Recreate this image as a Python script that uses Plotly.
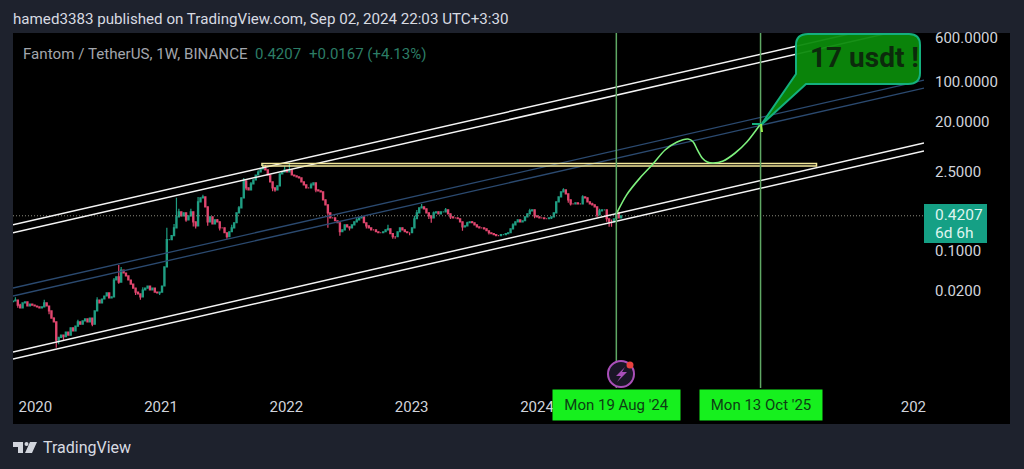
import pandas as pd
import plotly.graph_objects as go

# weekly closes, first candle is 2019-10-28
closes = [
    .0129, .0134, .0109, .0097, .0119, .0124, .0105, .0114, .0109, .0105,
    .0101, .0097, .0101, .0119, .0105, .0086, .0064, .0055, .0026, .0029,
    .0032, .0030, .0036, .0032, .0043, .0038, .0046, .0055, .0050, .0057,
    .0062, .0055, .0064, .0050, .0086, .0134, .0119, .0140, .0158, .0179,
    .0146, .0152, .0304, .0345, .0280, .0458, .0405, .0359, .0304, .0258,
    .0219, .0186, .0172, .0152, .0202, .0219, .0238, .0202, .0219, .0186,
    .0179, .0186, .0238, .052, .158, .158, .186, .257, .403, .494,
    .42, .474, .357, .42, .494, .329, .279, .743, .875, .91,
    .606, .329, .403, .303, .357, .329, .257, .257, .21, .179,
    .219, .257, .316, .474, .582, .875, 1.75, 1.32, 1.21, 1.55,
    1.82, 2.23, 2.52, 2.85, 2.97, 2.74, 2.23, 1.68, 1.32, 1.21,
    1.43, 2.33, 2.52, 2.74, 2.52, 2.74, 2.23, 2.15, 2.06, 1.98,
    1.68, 1.49, 1.32, 1.32, 1.49, 1.61, 1.21, 1.16, 1.12, .806,
    .657, .474, .387, .387, .343, .316, .219, .237, .291, .268,
    .257, .291, .329, .357, .387, .403, .316, .279, .257, .237,
    .237, .219, .21, .21, .219, .237, .247, .202, .179, .179,
    .219, .257, .237, .219, .21, .21, .257, .372, .474, .582,
    .606, .558, .474, .42, .387, .474, .494, .455, .494, .494,
    .536, .455, .403, .387, .387, .372, .329, .268, .279, .316,
    .329, .316, .291, .268, .257, .257, .247, .228, .21, .202,
    .194, .186, .186, .194, .194, .202, .21, .247, .291, .329,
    .357, .329, .343, .403, .455, .515, .536, .42, .403, .387,
    .387, .372, .372, .387, .403, .474, .743, .91, 1.12, 1.21,
    1.03, .806, .685, .685, .713, .685, .685, .91, .875, .743,
    .685, .657, .606, .437, .515, .536, .536, .372, .329, .329,
    .372, .474, .387, .4207,
]
# the longer wicks: week index -> price
wick_highs = {
    1: .0150, 3: .0115, 13: .0135, 16: .0088, 17: .0066, 27: .0060, 35: .0150, 42: .033,
    44: .056, 45: .052, 54: .0225, 64: .257, 67: .30, 68: .875, 69: .56, 74: .56,
    77: .91, 79: .99, 80: .80, 85: .37, 91: .29, 94: .63, 96: 1.98, 99: 1.68,
    102: 2.7, 104: 3.46, 105: 3.36, 106: 2.75, 113: 3.2, 115: 3.5, 116: 2.8, 124: 1.62,
    129: 1.1, 131: .66, 143: .39, 156: .29, 167: .42, 168: .53, 170: .68, 175: .50,
    180: .58, 189: .33, 191: .34, 208: .31, 215: .56, 217: .54, 229: 1.3, 230: 1.25,
    237: .97, 241: .72, 244: .56, 249: .36, 251: .50, 252: .494,
}
wick_lows = {
    2: .0098, 15: .0075, 18: .0019, 19: .0022, 21: .0026, 33: .0046, 44: .026, 51: .0165,
    53: .0135, 61: .0165, 72: .33, 75: .27, 76: .25, 81: .279, 86: .23, 89: .165,
    97: 1.2, 108: 1.15, 109: 1.12, 126: 1.1, 131: .257, 136: .186, 140: .23, 147: .25,
    158: .165, 159: .165, 165: .19, 173: .37, 174: .316, 182: .37, 187: .228, 198: .195,
    203: .185, 217: .38, 224: .37, 231: .72, 232: .64, 243: .39, 247: .33, 248: .268,
    249: .268, 250: .33,
}

# drawn lines, two ends each
chart_start, chart_end = '2019-10-28', '2027-02-01'
channel_white = [(.291, 1429), (.21, 1029), (.0016, 8.25), (.0012, 5.95)]
channel_blue = [(.0219, 108), (.0158, 78)]
zone_dates = ['2021-10-22', '2026-03-25']
zone_prices = [3.22, 3.57]
marker_dates = ['2024-08-19', '2025-10-13']
marker_labels = ["Mon 19 Aug '24", "Mon 13 Oct '25"]
last_price = 0.4207

projection_dates = [
    '2024-08-19', '2024-09-18', '2024-10-27', '2024-12-01', '2025-01-08', '2025-02-12',
    '2025-03-16', '2025-03-31', '2025-04-12', '2025-04-26', '2025-05-11', '2025-05-28',
    '2025-06-26', '2025-07-31', '2025-09-03', '2025-10-13',
]
projection_prices = [.455, .99, 1.98, 3.36, 6.2, 8.6, 9.7, 8.6, 6.2, 4.47, 3.79, 3.64, 3.95, 5.48, 8.6, 18]

price_ticks = [600, 100, 20, 2.5, 0.1, 0.02]
# 2025 and 2026 sit behind the two green date boxes in the picture
year_ticks = ['2020-01-01', '2021-01-01', '2022-01-01', '2023-01-01', '2024-01-01', '2027-01-01']
year_labels = ['2020', '2021', '2022', '2023', '2024', '202']

# plot box on the page, in pixels
L, R, T, B = 13, 924, 33, 388


def px(x):
    return (x - L) / (R - L)


def py(y):
    return (B - y) / (B - T)


dates = pd.date_range('2019-10-28', periods=len(closes), freq='7D')
opens = [.0125] + closes[:-1]
highs = [max(o, c) for o, c in zip(opens, closes)]
lows = [min(o, c) for o, c in zip(opens, closes)]
for week, price in wick_highs.items():
    highs[week] = max(highs[week], price)
for week, price in wick_lows.items():
    lows[week] = min(lows[week], price)

fig = go.Figure()

fig.add_trace(go.Candlestick(
    x=dates, open=opens, high=highs, low=lows, close=closes,
    increasing=dict(line=dict(color='#1f9d82', width=1.2), fillcolor='#1f9d82'),
    decreasing=dict(line=dict(color='#e0466e', width=1.2), fillcolor='#e0466e'),
    whiskerwidth=0,
))

fig.add_trace(go.Scatter(
    x=[chart_start, chart_end], y=[last_price, last_price], mode='lines',
    line=dict(color='#8a8a7e', width=1, dash='1px 2px'),
))

for start, end in channel_blue:
    fig.add_trace(go.Scatter(
        x=[chart_start, chart_end], y=[start, end], mode='lines',
        line=dict(color='#2b4a70', width=1.3),
    ))
for start, end in channel_white:
    fig.add_trace(go.Scatter(
        x=[chart_start, chart_end], y=[start, end], mode='lines',
        line=dict(color='#f4f4f4', width=1.5),
    ))

fig.add_trace(go.Scatter(
    x=[zone_dates[0], zone_dates[1], zone_dates[1], zone_dates[0], zone_dates[0]],
    y=[zone_prices[0], zone_prices[0], zone_prices[1], zone_prices[1], zone_prices[0]],
    mode='lines', line=dict(color='#f3e89a', width=1.5),
))

fig.add_trace(go.Scatter(
    x=projection_dates, y=projection_prices, mode='lines',
    line=dict(color='#7df07d', width=1.6, shape='spline', smoothing=0.8),
))

shapes = [
    # black panel behind the plot and both scales
    dict(type='rect', xref='paper', yref='paper', layer='below',
         x0=px(13), x1=px(1010), y0=py(424), y1=py(33), fillcolor='#000000', line_width=0),
]
for d in marker_dates:
    shapes.append(dict(type='line', xref='x', yref='paper', x0=d, x1=d, y0=0, y1=1,
                       line=dict(color='#5fa864', width=1.5)))

# callout bubble, pixel outline on the page
bubble_path = (
    f'M {px(808)} {py(34)} L {px(909)} {py(34)} Q {px(920)} {py(34)} {px(920)} {py(45)} '
    f'L {px(920)} {py(73)} Q {px(920)} {py(84)} {px(908)} {py(84)} L {px(806)} {py(84)} '
    f'L {px(761)} {py(125)} L {px(796)} {py(74)} L {px(796)} {py(45)} '
    f'Q {px(796)} {py(34)} {px(808)} {py(34)} Z'
)
shapes.append(dict(type='path', xref='paper', yref='paper', path=bubble_path,
                   fillcolor='rgba(11,138,11,0.95)', line=dict(color='#14b07e', width=2)))
shapes.append(dict(type='line', xref='paper', yref='paper', x0=px(752), x1=px(761), y0=py(124), y1=py(124),
                   line=dict(color='#14b07e', width=2)))
shapes.append(dict(type='line', xref='paper', yref='paper', x0=px(761), x1=px(762), y0=py(124), y1=py(132),
                   line=dict(color='#9af04a', width=2)))

# alert icon
shapes.append(dict(type='circle', xref='paper', yref='paper', x0=px(608), x1=px(634), y0=py(387), y1=py(361),
                   fillcolor='#1a1626', line=dict(color='#a94fb8', width=2)))
bolt = (
    f'M {px(625)} {py(367)} L {px(616)} {py(376)} L {px(621)} {py(376)} L {px(617)} {py(382)} '
    f'L {px(627)} {py(372)} L {px(622)} {py(372)} Z'
)
shapes.append(dict(type='path', xref='paper', yref='paper', path=bolt, fillcolor='#a94fb8', line_width=0))
shapes.append(dict(type='circle', xref='paper', yref='paper', x0=px(626.5), x1=px(633.5), y0=py(368.5), y1=py(361.5),
                   fillcolor='#e8413f', line_width=0))

# price badge
shapes.append(dict(type='rect', xref='paper', yref='paper', x0=px(924), x1=px(987), y0=py(243), y1=py(204),
                   fillcolor='#15a085', line_width=0))

# TradingView logo
logo = (
    f'M {px(13)} {py(442)} L {px(23)} {py(442)} L {px(23)} {py(453)} L {px(18)} {py(453)} L {px(18)} {py(447)} L {px(13)} {py(447)} Z '
    f'M {px(30)} {py(442)} L {px(37)} {py(442)} L {px(32)} {py(453)} L {px(25)} {py(453)} Z'
)
shapes.append(dict(type='path', xref='paper', yref='paper', path=logo, fillcolor='#d1d4dc', line_width=0))
shapes.append(dict(type='circle', xref='paper', yref='paper', x0=px(24.5), x1=px(28.5), y0=py(446), y1=py(442),
                   fillcolor='#d1d4dc', line_width=0))

fig.update_layout(shapes=shapes)


def label(text, x, y, color, size=15, xanchor='left', **kw):
    fig.add_annotation(text=text, xref='paper', yref='paper', x=px(x), y=py(y), xanchor=xanchor, yanchor='middle',
                       showarrow=False, font=dict(family='Roboto', size=size, color=color), **kw)


label('hamed3383 published on TradingView.com, Sep 02, 2024 22:03 UTC+3:30', 13, 19, '#d8dbe2', size=15.15, xshift=-2)
label('Fantom / TetherUS, 1W, BINANCE', 23, 54, '#a3a6ad', size=15.15, xshift=-2)
label('0.4207', 255, 54, '#2c7d66', xshift=-2)
label('+0.0167 (+4.13%)', 309, 54, '#2c7d66', xshift=-2)
label('TradingView', 43, 447, '#d8dbe2', size=16, xshift=-2)
label('<b>17 usdt !</b>', 864, 57, '#0c2a0c', size=28, xanchor='center')
label('0.4207', 935, 215, '#dff5ef', size=15.5, xshift=-2)
label('6d 6h', 935, 233, '#dff5ef', size=15.5, xshift=-2)

# time labels of the two vertical markers
for d, text, box_width in zip(marker_dates, marker_labels, [127, 122]):
    fig.add_annotation(text=text, xref='x', yref='paper', x=d, y=py(405), xanchor='center', yanchor='middle',
                       showarrow=False, bgcolor='#16f01e', width=box_width - 2, height=28,
                       font=dict(family='Roboto', size=15, color='#0d3d14'))

fig.update_xaxes(
    range=[chart_start, chart_end], type='date', rangeslider_visible=False,
    showgrid=False, zeroline=False, showline=False, ticks='',
    tickmode='array', tickvals=year_ticks, ticktext=year_labels,
    tickfont=dict(family='Roboto', size=15, color='#d1d4dc'), ticklabelstandoff=8,
)
fig.update_yaxes(
    type='log', range=[-3.435, 2.870], side='right',
    showgrid=False, zeroline=False, showline=False, ticks='',
    tickmode='array', tickvals=price_ticks, ticktext=[f'{p:.4f}' for p in price_ticks],
    tickfont=dict(family='Roboto', size=15, color='#d1d4dc'), ticklabelstandoff=10,
)
fig.update_layout(
    width=1024, height=469,
    margin=dict(l=L, r=1024 - R, t=T, b=469 - B, pad=0),
    paper_bgcolor='#1e222d', plot_bgcolor='#000000',
    showlegend=False, hovermode=False,
)

fig.write_html("out.html", config={'displayModeBar': False},
               post_script="document.body.style.margin='0';document.body.style.overflow='hidden';")
